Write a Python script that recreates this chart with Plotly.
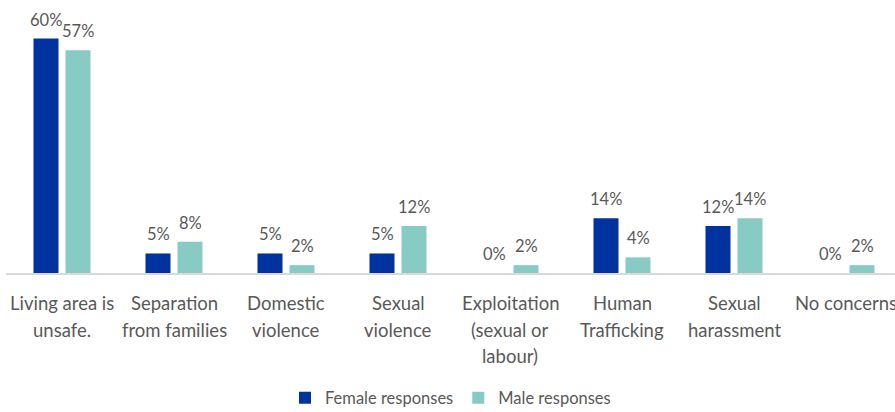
import plotly.graph_objects as go

# Protection concerns reported, by respondent sex (% of responses)
categories = [
    "Living area is<br>unsafe.",
    "Separation<br>from families",
    "Domestic<br>violence",
    "Sexual<br>violence",
    "Exploitation<br>(sexual or<br>labour)",
    "Human<br>Trafficking",
    "Sexual<br>harassment",
    "No concerns",
]
female_pct = [60, 5, 5, 5, 0, 14, 12, 0]
male_pct = [57, 8, 2, 12, 2, 4, 14, 2]

FEMALE_COLOR = "#0033A0"
MALE_COLOR = "#88CBC4"
TEXT_COLOR = "#595959"
FONT = "Lato"

x_idx = list(range(len(categories)))

fig = go.Figure()
fig.add_trace(go.Bar(x=x_idx, y=female_pct, name="Female responses",
                     marker=dict(color=FEMALE_COLOR, line=dict(width=0))))
fig.add_trace(go.Bar(x=x_idx, y=male_pct, name="Male responses",
                     marker=dict(color=MALE_COLOR, line=dict(width=0))))

annotations = []
# value labels above each bar
for i in x_idx:
    for val, shift in ((female_pct[i], -16), (male_pct[i], 16)):
        annotations.append(dict(
            x=i, y=val, xref="x", yref="y", text=f"{val}%",
            showarrow=False, xshift=shift, yshift=19,
            xanchor="center", yanchor="middle",
            font=dict(family=FONT, size=16.5, color=TEXT_COLOR),
        ))
# category labels below the axis, one line at a time for wider leading
for i, label in enumerate(categories):
    for j, line in enumerate(label.split("<br>")):
        annotations.append(dict(
            x=i, y=0, xref="x", yref="y", text=line,
            showarrow=False, yshift=-30 - 26.5 * j,
            xanchor="center", yanchor="middle",
            font=dict(family=FONT, size=18.5, color=TEXT_COLOR),
        ))

fig.update_layout(
    width=895, height=412,
    margin=dict(l=6, r=0, t=19, b=139, autoexpand=False),
    paper_bgcolor="white", plot_bgcolor="white",
    barmode="group", bargap=0.4286, bargroupgap=0.21875,
    font=dict(family=FONT, color=TEXT_COLOR),
    showlegend=True,
    legend=dict(orientation="h", x=0.5, xanchor="center",
                yref="container", y=0.034, yanchor="middle",
                font=dict(family=FONT, size=16.5, color=TEXT_COLOR),
                itemwidth=30),
    annotations=annotations,
)
fig.update_xaxes(range=[-0.5, 7.4375], showticklabels=False, ticks="",
                 showgrid=False, zeroline=False, showline=True,
                 linecolor="#D9D9D9", linewidth=1.5, fixedrange=True)
fig.update_yaxes(range=[0, 65], visible=False, showgrid=False,
                 zeroline=False, fixedrange=True)

fig.write_html("out.html")
